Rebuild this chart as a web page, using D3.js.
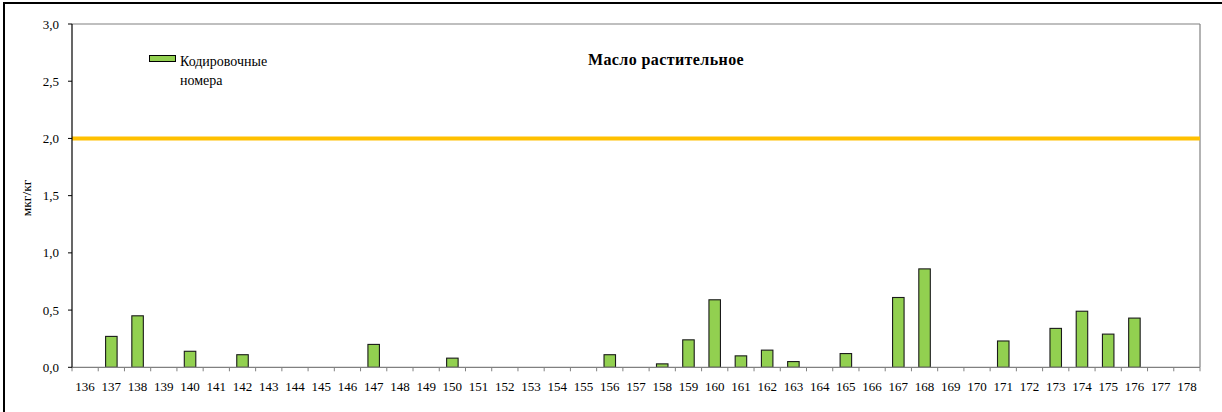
<!DOCTYPE html>
<html><head><meta charset="utf-8">
<script src="https://cdn.jsdelivr.net/npm/d3@7"></script>
<style>body{margin:0;background:#fff}svg{display:block}</style>
</head><body><svg id="c" width="1222" height="412" font-family="'Liberation Serif', 'DejaVu Serif', serif"></svg>
<script>
const categories = d3.range(136, 179).map(String);
const values = [null,0.27,0.45,null,0.14,null,0.11,null,null,null,null,0.20,null,null,0.08,null,null,null,null,null,0.11,null,0.03,0.24,0.59,0.10,0.15,0.05,null,0.12,null,0.61,0.86,null,null,0.23,null,0.34,0.49,0.29,0.43,null,null];
const yTicks = [0,0.5,1.0,1.5,2.0,2.5,3.0];
const limitValue = 2.0;
const title = "Масло растительное";
const yLabel = "мкг/кг";
const legendLines = ["Кодировочные","номера"];

const FONT = "'Liberation Serif', 'DejaVu Serif', serif";
const svg = d3.select("#c");
const L=72, R=1200, T=24, B=367.3;
const x = d3.scaleBand().domain(categories).range([L,R]).paddingInner(0).paddingOuter(0);
const y = d3.scaleLinear().domain([0,3]).range([B,T]);

svg.append("rect").attr("x",4).attr("y",3).attr("width",1222).attr("height",415).attr("fill","none").attr("stroke","#000").attr("stroke-width",2);

svg.append("line").attr("x1",L).attr("x2",R).attr("y1",T).attr("y2",T).attr("stroke","#808080").attr("stroke-width",1.2);
svg.append("line").attr("x1",R).attr("x2",R).attr("y1",T).attr("y2",B).attr("stroke","#808080").attr("stroke-width",1.2);

const bw = 11.5;
const data = categories.map((c,i)=>({c,v:values[i]})).filter(d=>d.v!=null);
svg.append("g").selectAll("rect").data(data).join("rect")
  .attr("x",d=>x(d.c)+x.bandwidth()/2-bw/2).attr("width",bw)
  .attr("y",d=>y(d.v)).attr("height",d=>y(0)-y(d.v))
  .attr("fill","#92D050").attr("stroke","#1a1a1a").attr("stroke-width",1.1);

svg.append("line").attr("x1",L).attr("x2",R).attr("y1",y(limitValue)).attr("y2",y(limitValue)).attr("stroke","#FFC000").attr("stroke-width",4);

const gx = svg.append("g");
gx.append("line").attr("x1",L).attr("x2",R).attr("y1",B).attr("y2",B).attr("stroke","#808080").attr("stroke-width",1.2);
const bounds = categories.map(c=>x(c)).concat([R]);
gx.selectAll("line.t").data(bounds).join("line").attr("class","t")
  .attr("x1",d=>d).attr("x2",d=>d).attr("y1",B).attr("y2",B+4).attr("stroke","#808080");
gx.selectAll("text").data(categories).join("text")
  .attr("x",d=>x(d)+x.bandwidth()/2).attr("y",391).attr("text-anchor","middle")
  .attr("font-family",FONT).attr("font-size",13).text(d=>d);

const gy = svg.append("g");
gy.append("line").attr("x1",L).attr("x2",L).attr("y1",T).attr("y2",B).attr("stroke","#000").attr("stroke-width",1.2);
gy.selectAll("line.t").data(yTicks).join("line").attr("class","t")
  .attr("x1",L-4).attr("x2",L).attr("y1",d=>y(d)).attr("y2",d=>y(d)).attr("stroke","#000");
gy.selectAll("text").data(yTicks).join("text")
  .attr("x",59).attr("y",d=>y(d)+4.5).attr("text-anchor","end").attr("font-family",FONT).attr("font-size",13)
  .text(d=>d3.format(".1f")(d).replace(".",","));

svg.append("text").attr("transform","translate(31,198) rotate(-90)").attr("text-anchor","middle")
  .attr("font-family",FONT).attr("font-size",13.5).text(yLabel);

svg.append("text").attr("x",666).attr("y",65).attr("text-anchor","middle").attr("font-family",FONT).attr("font-size",16).attr("letter-spacing",0.4).attr("font-weight","bold").text(title);

svg.append("rect").attr("x",149.5).attr("y",55.5).attr("width",26).attr("height",6).attr("fill","#92D050").attr("stroke","#000").attr("stroke-width",1);
legendLines.forEach((t,i)=>svg.append("text").attr("x",180).attr("y",66+i*19).attr("font-family",FONT).attr("font-size",14).text(t));
</script></body></html>
